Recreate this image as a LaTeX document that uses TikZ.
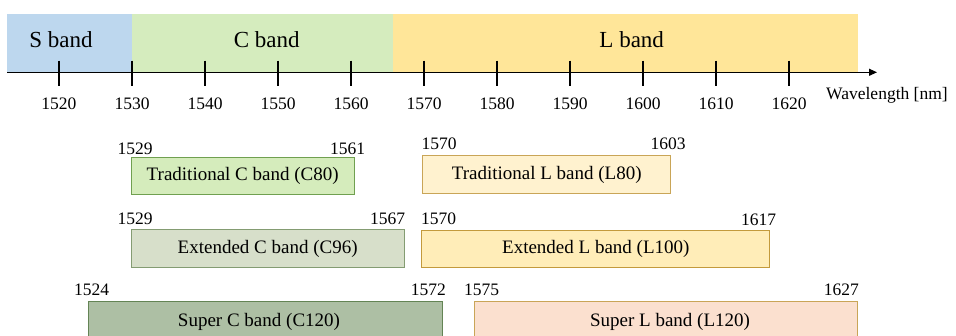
\documentclass[tikz,border=0pt]{standalone}
\usepackage{fontspec}
\setmainfont{Liberation Serif}
\usetikzlibrary{arrows.meta}
\definecolor{sband}{HTML}{BDD7EE}
\definecolor{cband}{HTML}{D5ECBE}
\definecolor{lband}{HTML}{FFE699}
\definecolor{tcfill}{HTML}{D5ECBC}
\definecolor{tcdraw}{HTML}{70A050}
\definecolor{ecfill}{HTML}{D7DFCA}
\definecolor{ecdraw}{HTML}{849C72}
\definecolor{scfill}{HTML}{ADBFA4}
\definecolor{scdraw}{HTML}{648455}
\definecolor{tlfill}{HTML}{FFF2CF}
\definecolor{tldraw}{HTML}{C9A557}
\definecolor{elfill}{HTML}{FFEDB8}
\definecolor{eldraw}{HTML}{C39A3C}
\definecolor{slfill}{HTML}{FBE0CF}
\definecolor{sldraw}{HTML}{C9A557}
\begin{document}
\begin{tikzpicture}[x=1pt,y=-1pt,
  bandlbl/.style={font=\fontsize{23}{23}\selectfont, inner sep=0pt},
  ticklbl/.style={font=\fontsize{17.5}{17.5}\selectfont, inner sep=0pt},
  numlbl/.style={font=\fontsize{17.5}{17.5}\selectfont, inner sep=0pt},
  boxtxt/.style={font=\fontsize{19}{19}\selectfont, inner sep=0pt},
  tickmark/.style={line width=1.2pt},
  rangebox/.style={line width=1pt}]
\useasboundingbox (0,0) rectangle (956,336);
% band backgrounds
\fill[sband] (7,14) rectangle (132,72);
\fill[cband] (132,14) rectangle (393,72);
\fill[lband] (393,14) rectangle (857.7,72);
\node[bandlbl] (sb) at (61,40) {S band};
\node[bandlbl] (cb) at (266.7,40) {C band};
\node[bandlbl] (lb) at (631.7,40) {L band};
% axis
\coordinate (ax0) at (7,72.3);
\coordinate (ax1) at (877,72.3);
\draw[line width=1.2pt, -{Triangle[length=8pt,width=7pt]}] (ax0) -- (ax1);
\foreach \v in {1520,1530,...,1620}{
  \pgfmathsetmacro\xx{59+7.3*(\v-1520)}
  \draw[tickmark] (\xx,60.7) -- (\xx,85.7);
  \node[ticklbl] (t\v) at (\xx,104) {\v};
}
\node[ticklbl, anchor=west] (wl) at (826,95) {Wavelength [nm]};
% C boxes
\draw[rangebox, draw=tcdraw, fill=tcfill] (131,157.3) rectangle (354.3,195);
\node[boxtxt] (tc) at (242.7,175.5) {Traditional C band (C80)};
\node[numlbl] (tc1) at (135,149) {1529};
\node[numlbl] (tc2) at (347.5,149) {1561};
\draw[rangebox, draw=ecdraw, fill=ecfill] (131,229.3) rectangle (404.3,267.3);
\node[boxtxt] (ec) at (267.7,248.5) {Extended C band (C96)};
\node[numlbl] (ec1) at (135,219) {1529};
\node[numlbl] (ec2) at (387.5,219) {1567};
\draw[rangebox, draw=scdraw, fill=scfill] (88.3,301.7) rectangle (442.7,345);
\node[boxtxt] (sc) at (259,322) {Super C band (C120)};
\node[numlbl] (sc1) at (91.7,290) {1524};
\node[numlbl] (sc2) at (428.3,290) {1572};
% L boxes
\draw[rangebox, draw=tldraw, fill=tlfill] (422.3,156) rectangle (670,194);
\node[boxtxt] (tl) at (546.7,175) {Traditional L band (L80)};
\node[numlbl] (tl1) at (439,143.3) {1570};
\node[numlbl] (tl2) at (668,143.3) {1603};
\draw[rangebox, draw=eldraw, fill=elfill] (421.7,230.7) rectangle (769,267.7);
\node[boxtxt] (el) at (595.8,248.5) {Extended L band (L100)};
\node[numlbl] (el1) at (438.7,218.3) {1570};
\node[numlbl] (el2) at (758.7,220) {1617};
\draw[rangebox, draw=sldraw, fill=slfill] (474.3,301.7) rectangle (857.7,345);
\node[boxtxt] (sl) at (670,322) {Super L band (L120)};
\node[numlbl] (sl1) at (481.7,290) {1575};
\node[numlbl] (sl2) at (841.3,290) {1627};
\end{tikzpicture}
\end{document}
